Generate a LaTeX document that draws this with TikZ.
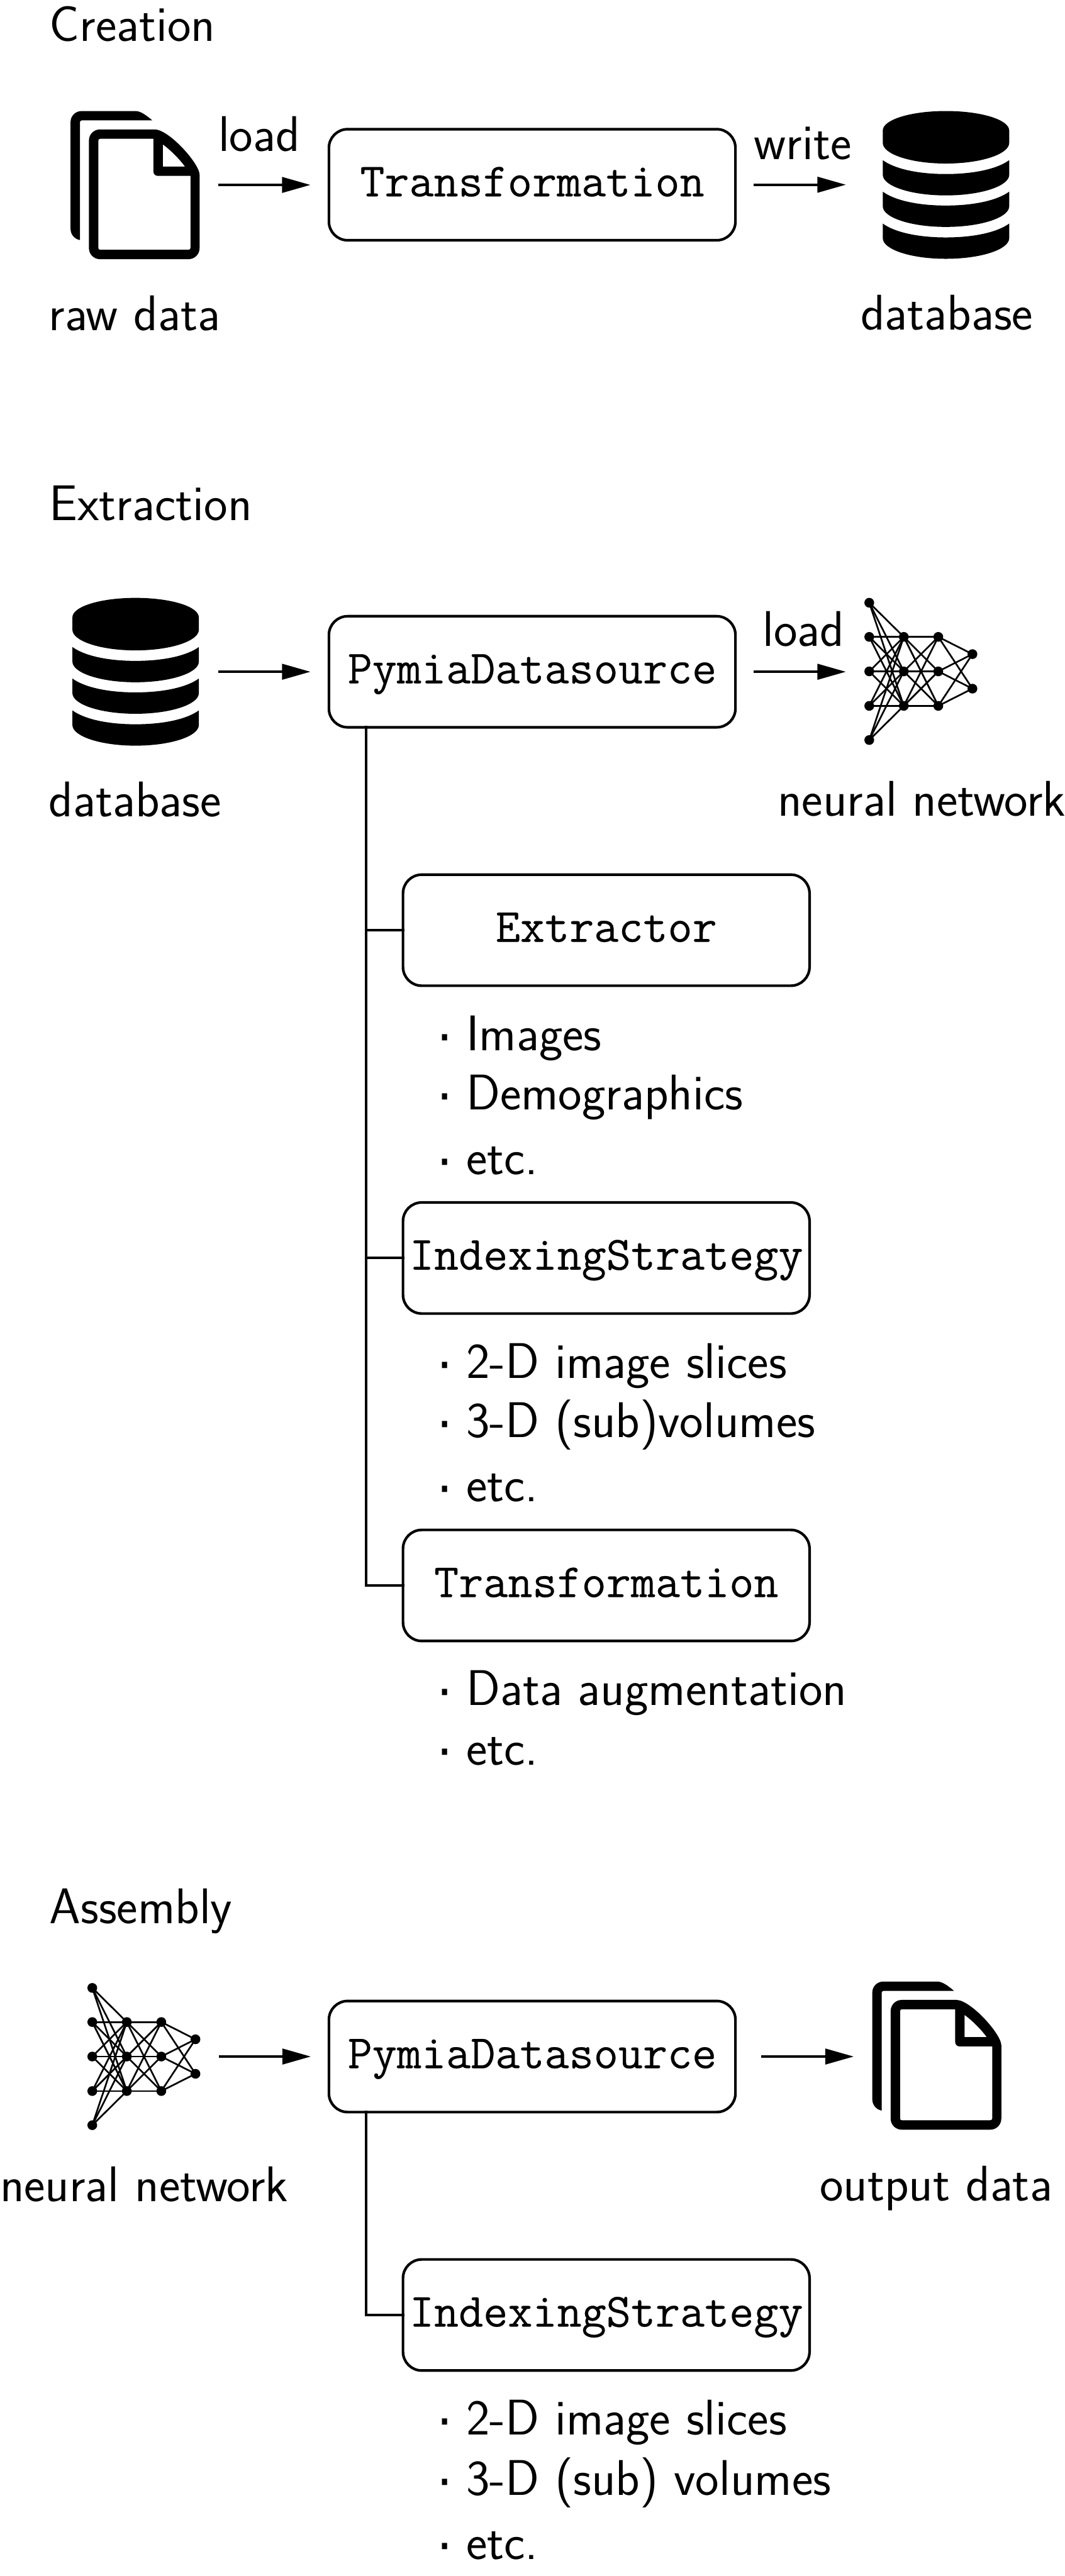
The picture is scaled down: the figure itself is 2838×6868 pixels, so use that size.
\documentclass[tikz,border=0pt]{standalone}
\usepackage{fontspec}
\setmonofont{Latin Modern Mono}[FakeBold=0.3]
\usetikzlibrary{arrows.meta}
\newfontfamily\dotfont{DejaVu Sans}
\newcommand{\itemdot}{\raisebox{-0.09em}{\dotfont ·}\hspace{0.27em}}
\tikzset{
  x=0.01cm,y=-0.01cm,
  lab/.style={anchor=base west,inner sep=0pt,outer sep=0pt,font=\fontsize{38}{44}\selectfont\sffamily},
  item/.style={lab},
  rbox/.style={draw=black,line width=0.07cm,rounded corners=0.5cm,minimum width=10.83cm,minimum height=2.96cm,inner sep=0pt,outer sep=0pt,text height=0.8cm,text depth=0.18cm,font=\fontsize{36.2}{42}\selectfont\ttfamily},
  arr/.style={line width=0.07cm,-{Triangle[length=0.76cm,width=0.41cm]}},
  branch/.style={line width=0.07cm,line cap=rect},
  icon/.style={inner sep=0pt,outer sep=0pt,minimum height=3.95cm},
  dotn/.style={circle,fill=black,inner sep=0pt,outer sep=0pt,minimum size=0.26cm},
  nnline/.style={line width=0.045cm},
}
\newcommand{\dbicon}[2]{%
  \begin{scope}[shift={(#1,#2)}]
    \fill[black] (0,52) .. controls (0,23) and (75,0) .. (168,0) .. controls (262,0) and (337,23) .. (337,52) -- (337,85) .. controls (337,115) and (262,140) .. (168,140) .. controls (75,140) and (0,115) .. (0,85) -- cycle;
    \foreach \c in {131,215,300} {
      \fill[black,shift={(0,\c)}] (0,0) .. controls (30,22) and (90,37) .. (168,37) .. controls (247,37) and (307,22) .. (337,0) -- (337,39) .. controls (337,69) and (262,94) .. (168,94) .. controls (75,94) and (0,69) .. (0,39) -- cycle;
    }
  \end{scope}}
\newcommand{\docicon}[2]{%
  \begin{scope}[shift={(#1,#2)}]
    \fill[black] (0,30) .. controls (0,13) and (13,0) .. (30,0) -- (173,0) .. controls (188,0) and (205,14) .. (218,25) -- (30,25) .. controls (27,25) and (25,27) .. (25,30) -- (25,344) .. controls (10,341) and (0,329) .. (0,313) -- cycle;
    \fill[black,even odd rule] (49,79) .. controls (49,62) and (62,49) .. (79,49) -- (224,49) .. controls (262,49) and (344,140) .. (344,170) -- (344,365) .. controls (344,382) and (331,395) .. (314,395) -- (79,395) .. controls (62,395) and (49,382) .. (49,365) -- cycle
      (74,79) .. controls (74,76) and (76,74) .. (79,74) -- (221,74) -- (221,161) .. controls (221,168) and (226,173) .. (233,173) -- (320,173) -- (320,365) .. controls (320,368) and (317,370) .. (314,370) -- (79,370) .. controls (76,370) and (74,368) .. (74,365) -- cycle
      (246,89) .. controls (268,105) and (292,130) .. (305,148) -- (246,148) -- cycle;
  \end{scope}}
% #1 prefix, #2 x of first layer, #3 y of centre
\newcommand{\nnicon}[3]{%
  \foreach \i/\yy in {1/-183,2/-92,3/0,4/92,5/183} {\node[dotn] (#1la\i) at (#2,#3+\yy) {};}
  \foreach \i/\yy in {1/-92,2/0,3/92} {\node[dotn] (#1lb\i) at (#2+92,#3+\yy) {}; \node[dotn] (#1lc\i) at (#2+184,#3+\yy) {};}
  \foreach \i/\yy in {1/-46,2/46} {\node[dotn] (#1ld\i) at (#2+275,#3+\yy) {};}
  \foreach \i in {1,...,5} \foreach \j in {1,2,3} {\draw[nnline] (#1la\i.center) -- (#1lb\j.center);}
  \foreach \i in {1,2,3} \foreach \j in {1,2,3} {\draw[nnline] (#1lb\i.center) -- (#1lc\j.center);}
  \foreach \i in {1,2,3} \foreach \j in {1,2} {\draw[nnline] (#1lc\i.center) -- (#1ld\j.center);}}
\begin{document}
\begin{tikzpicture}
\path[use as bounding box] (0,0) rectangle (2838,6868);

% ---------- Creation
\node[lab] (tcreation) at (132,109) {Creation};
\docicon{188}{296}
\node[icon,minimum width=3.45cm] (doc1) at (360.5,493) {};
\node[lab] (traw) at (130,881) {raw data};
\node[rbox] (tr1) at (1418.5,492.5) {Transformation};
\dbicon{2353}{296}
\node[icon,minimum width=3.37cm] (db1) at (2521.5,493) {};
\node[lab] (tdb1) at (2294,879) {database};
\node[lab] (tload1) at (582,404) {load};
\node[lab] (twrite) at (2010,425) {write};
\draw[arr,shorten <=0.48cm,shorten >=0.49cm] (doc1.east) -- (doc1.east -| tr1.west);
\draw[arr,shorten <=0.49cm,shorten >=0.98cm] (tr1.east) -- (tr1.east -| db1.west);

% ---------- Extraction
\node[lab] (textraction) at (132,1388) {Extraction};
\dbicon{193}{1594}
\node[icon,minimum width=3.37cm] (db2) at (361.5,1791) {};
\node[lab] (tdb2) at (130,2178) {database};
\node[rbox] (pds1) at (1418.5,1791) {PymiaDatasource};
\node[icon,minimum width=3.01cm,minimum height=3.65cm] (nn1) at (2454.5,1791) {};
\nnicon{u}{2317}{1790}
\node[lab] (tload2) at (2033,1723) {load};
\node[lab] (tnn1) at (2073,2176) {neural network};
\draw[arr,shorten <=0.52cm,shorten >=0.49cm] (db2.east) -- (db2.east -| pds1.west);
\draw[arr,shorten <=0.49cm,shorten >=0.49cm] (pds1.east) -- (pds1.east -| nn1.west);

\node[rbox] (ex) at (1616,2480) {Extractor};
\node[item] (i1) at (1164,2801) {\itemdot Images};
\node[item] (i2) at (1164,2959) {\itemdot Demographics};
\node[item] (i3) at (1164,3132) {\itemdot etc.};
\node[rbox] (is1) at (1616,3354) {IndexingStrategy};
\node[item] (i4) at (1164,3674) {\itemdot 2-D image slices};
\node[item] (i5) at (1164,3832) {\itemdot 3-D (sub)volumes};
\node[item] (i6) at (1164,4004) {\itemdot etc.};
\node[rbox] (tr2) at (1616,4227) {Transformation};
\node[item] (i7) at (1164,4547) {\itemdot Data augmentation};
\node[item] (i8) at (1164,4705) {\itemdot etc.};
\coordinate (trunk1) at (976,1939);
\draw[branch] (trunk1) |- (tr2.west);
\draw[branch] (trunk1 |- ex.west) -- (ex.west);
\draw[branch] (trunk1 |- is1.west) -- (is1.west);

% ---------- Assembly
\node[lab] (tassembly) at (132,5128) {Assembly};
\node[icon,minimum width=3.01cm,minimum height=3.65cm] (nn2) at (383.5,5483) {};
\nnicon{v}{246}{5483}
\node[lab] (tnn2) at (0,5870) {neural network};
\node[rbox] (pds2) at (1418.5,5483) {PymiaDatasource};
\docicon{2325}{5283}
\node[icon,minimum width=3.44cm] (doc2) at (2497,5483) {};
\node[lab] (tout) at (2185,5867) {output data};
\draw[arr,shorten <=0.49cm,shorten >=0.48cm] (nn2.east) -- (nn2.east -| pds2.west);
\draw[arr,shorten <=0.69cm,shorten >=0.49cm] (pds2.east) -- (pds2.east -| doc2.west);
\node[rbox] (is2) at (1616,6172) {IndexingStrategy};
\node[item] (j1) at (1164,6492) {\itemdot 2-D image slices};
\node[item] (j2) at (1164,6652) {\itemdot 3-D (sub) volumes};
\node[item] (j3) at (1164,6823) {\itemdot etc.};
\coordinate (trunk2) at (976,5631);
\draw[branch] (trunk2) |- (is2.west);
\end{tikzpicture}
\end{document}
